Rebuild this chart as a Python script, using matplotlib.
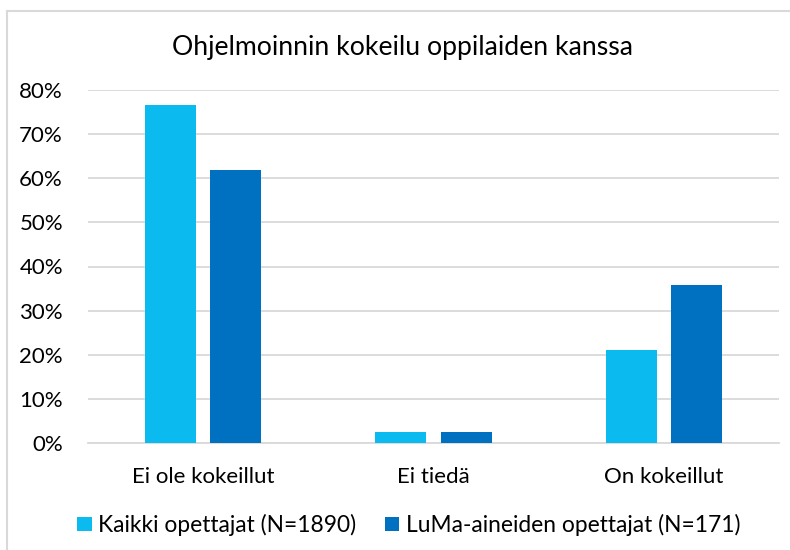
import matplotlib
matplotlib.use("Agg")
import matplotlib.pyplot as plt
import numpy as np

categories = ["Ei ole kokeillut", "Ei tiedä", "On kokeillut"]
series_names = ["Kaikki opettajat (N=1890)", "LuMa-aineiden opettajat (N=171)"]
kaikki = [76.6, 2.4, 21.1]
luma = [61.9, 2.4, 35.8]
yticks = [0, 10, 20, 30, 40, 50, 60, 70, 80]
title = "Ohjelmoinnin kokeilu oppilaiden kanssa"

colors = ["#0BBBEF", "#0070C0"]
FONT = ["Lato", "DejaVu Sans"]
plt.rcParams['font.family'] = FONT

W, H = 790, 550
fig = plt.figure(figsize=(W/100, H/100), dpi=100)
ax = fig.add_axes([88/W, (H-443)/H, (779-88)/W, (443-90)/H])

x = np.arange(len(categories))
bw = 0.222
off = 0.142
ax.bar(x - off, kaikki, bw, color=colors[0], zorder=3, label=series_names[0])
ax.bar(x + off, luma, bw, color=colors[1], zorder=3, label=series_names[1])

ax.set_xlim(-0.5, 2.5)
ax.set_ylim(0, 80)
ax.set_yticks(yticks)
ax.set_yticklabels([f"{v}%" for v in yticks])
ax.yaxis.grid(True, color="#D9D9D9", linewidth=1.3, zorder=0)
ax.set_xticks(x)
ax.set_xticklabels(categories)
for s in ["top", "right", "left"]:
    ax.spines[s].set_visible(False)
ax.spines["bottom"].set_color("#D9D9D9")
ax.spines["bottom"].set_linewidth(1.3)
ax.tick_params(axis="both", length=0, labelsize=16, colors="#000000")
ax.tick_params(axis="y", pad=18)
ax.tick_params(axis="x", pad=17)

fig.text(402/W, 1 - 47/H, title, ha="center", va="center", fontsize=19.2)

leg = fig.legend(loc="center", bbox_to_anchor=(409/W, 1 - 525/H), ncol=2, frameon=False,
                 fontsize=16.4, handlelength=0.62, handleheight=0.62, handletextpad=0.3,
                 columnspacing=1.25)

# light frame lines (top and left) as in the screenshot
fig.add_artist(plt.Line2D([7/W, 1], [1 - 11/H, 1 - 11/H], color="#D9D9D9", lw=1.5, transform=fig.transFigure))
fig.add_artist(plt.Line2D([7/W, 7/W], [0, 1 - 11/H], color="#D9D9D9", lw=1.5, transform=fig.transFigure))

fig.savefig("out.png", dpi=100)
